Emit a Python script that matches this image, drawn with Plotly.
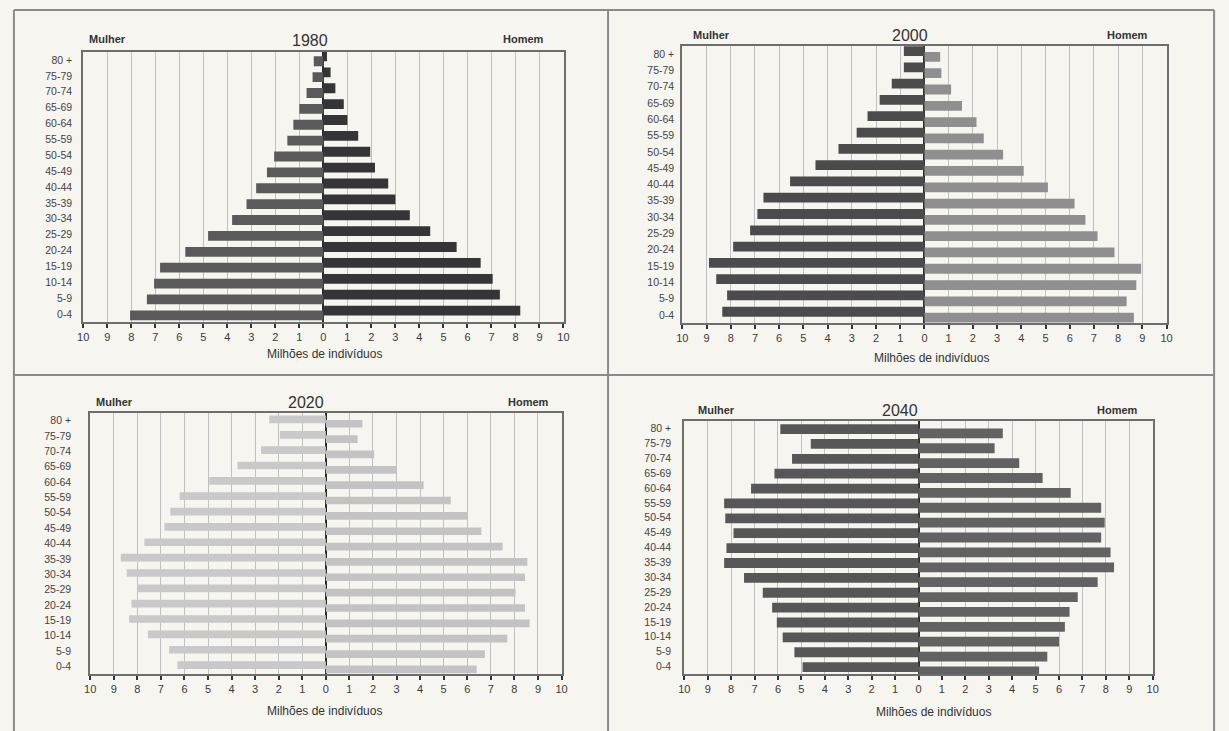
import plotly.graph_objects as go

# Age groups, bottom to top
ages = ["0-4", "5-9", "10-14", "15-19", "20-24", "25-29", "30-34", "35-39",
        "40-44", "45-49", "50-54", "55-59", "60-64", "65-69", "70-74", "75-79", "80 +"]

# Population in millions (women / men), same order as ages
mulher_1980 = [8.05, 7.35, 7.05, 6.8, 5.75, 4.8, 3.8, 3.2, 2.8, 2.35, 2.05, 1.5, 1.25, 1.0, 0.7, 0.45, 0.4]
homem_1980 = [8.2, 7.35, 7.05, 6.55, 5.55, 4.45, 3.6, 3.0, 2.7, 2.15, 1.95, 1.45, 1.0, 0.85, 0.5, 0.3, 0.15]

mulher_2000 = [8.35, 8.15, 8.6, 8.9, 7.9, 7.2, 6.9, 6.65, 5.55, 4.5, 3.55, 2.8, 2.35, 1.85, 1.35, 0.85, 0.85]
homem_2000 = [8.65, 8.35, 8.75, 8.95, 7.85, 7.15, 6.65, 6.2, 5.1, 4.1, 3.25, 2.45, 2.15, 1.55, 1.1, 0.7, 0.65]

mulher_2020 = [6.3, 6.65, 7.55, 8.35, 8.25, 8.0, 8.45, 8.7, 7.7, 6.85, 6.6, 6.2, 4.95, 3.75, 2.75, 1.95, 2.4]
homem_2020 = [6.4, 6.75, 7.7, 8.65, 8.45, 8.05, 8.45, 8.55, 7.5, 6.6, 6.0, 5.3, 4.15, 3.0, 2.05, 1.35, 1.55]

mulher_2040 = [4.95, 5.3, 5.8, 6.05, 6.25, 6.65, 7.45, 8.3, 8.2, 7.9, 8.25, 8.3, 7.15, 6.15, 5.4, 4.6, 5.9]
homem_2040 = [5.15, 5.5, 6.0, 6.25, 6.45, 6.8, 7.65, 8.35, 8.2, 7.8, 7.95, 7.8, 6.5, 5.3, 4.3, 3.25, 3.6]

x_ticks = list(range(-10, 11))
x_ticktext = [str(abs(v)) for v in x_ticks]

W, H = 1229, 731
BG = "#f6f5ef"
FONT = "Liberation Sans, Arial, sans-serif"


def px(x):
    return x / W


def py(y):
    return 1 - y / H


# Per panel: data, colours, bar geometry and placement (pixels)
panels = [
    dict(year="1980", f=mulher_1980, m=homem_1980, fc="#5a5a5a", mc="#353535",
         width=0.62, f_shift=-0.08, m_shift=0.22,
         x0=78, x1=563, y0=52, y1=322, label_pad=7,
         mulher=(103, 39), homem=(523, 39), title=(307, 40), xtitle=(322, 354)),
    dict(year="2000", f=mulher_2000, m=homem_2000, fc="#4b4b4b", mc="#8f8f8f",
         width=0.6, f_shift=0.19, m_shift=-0.17,
         x0=683, x1=1172, y0=46, y1=323, label_pad=4,
         mulher=(712, 35), homem=(1133, 35), title=(913, 36), xtitle=(935, 358)),
    dict(year="2020", f=mulher_2020, m=homem_2020, fc="#c9c9c9", mc="#c3c3c3",
         width=0.5, f_shift=0.08, m_shift=-0.2,
         x0=85, x1=561, y0=413, y1=674, label_pad=15,
         mulher=(110, 402), homem=(528, 402), title=(303, 402), xtitle=(322, 711)),
    dict(year="2040", f=mulher_2040, m=homem_2040, fc="#575757", mc="#626262",
         width=0.66, f_shift=-0.04, m_shift=-0.33,
         x0=685, x1=1158, y0=421, y1=674, label_pad=9,
         mulher=(718, 410), homem=(1122, 410), title=(903, 410), xtitle=(937, 712)),
]

fig = go.Figure()
annotations = []
layout_axes = {}

for i, p in enumerate(panels, start=1):
    xa = "x" if i == 1 else f"x{i}"
    ya = "y" if i == 1 else f"y{i}"
    w = p["width"]
    fig.add_trace(go.Bar(
        y=ages, x=[-v for v in p["f"]], orientation="h", xaxis=xa, yaxis=ya,
        marker=dict(color=p["fc"], line=dict(width=0)), width=w,
        offset=p["f_shift"] - w / 2, name="Mulher", showlegend=False,
        customdata=p["f"], hovertemplate="Mulher %{y}: %{customdata} M<extra></extra>",
    ))
    fig.add_trace(go.Bar(
        y=ages, x=p["m"], orientation="h", xaxis=xa, yaxis=ya,
        marker=dict(color=p["mc"], line=dict(width=0)), width=w,
        offset=p["m_shift"] - w / 2, name="Homem", showlegend=False,
        hovertemplate="Homem %{y}: %{x} M<extra></extra>",
    ))

    xkey = "xaxis" if i == 1 else f"xaxis{i}"
    ykey = "yaxis" if i == 1 else f"yaxis{i}"
    layout_axes[xkey] = dict(
        domain=[px(p["x0"]), px(p["x1"])], anchor=ya, range=[-10, 10],
        tickvals=x_ticks, ticktext=x_ticktext, ticks="outside", ticklen=4,
        tickwidth=1.5, tickcolor="#333", tickfont=dict(size=11, color="#3a3a3a", family=FONT),
        showgrid=True, gridcolor="#c0c0c0", gridwidth=1,
        zeroline=True, zerolinecolor="#2a2a2a", zerolinewidth=2,
        showline=True, mirror=True, linecolor="#6e6e6e", linewidth=2,
        fixedrange=True,
    )
    layout_axes[ykey] = dict(
        domain=[py(p["y1"]), py(p["y0"])], anchor=xa, type="category",
        categoryorder="array", categoryarray=ages, range=[-0.5, 16.5],
        ticks="", ticklabelstandoff=p["label_pad"],
        tickfont=dict(size=10.5, color="#444", family=FONT),
        showgrid=False, zeroline=False,
        showline=True, mirror=True, linecolor="#6e6e6e", linewidth=2,
        fixedrange=True,
    )

    annotations += [
        dict(text="<b>Mulher</b>", x=px(p["mulher"][0]), y=py(p["mulher"][1]),
             font=dict(size=11, color="#333", family=FONT)),
        dict(text="<b>Homem</b>", x=px(p["homem"][0]), y=py(p["homem"][1]),
             font=dict(size=11, color="#333", family=FONT)),
        dict(text=p["year"], x=px(p["title"][0]), y=py(p["title"][1]),
             font=dict(size=16, color="#333", family=FONT)),
        dict(text="Milhões de indivíduos", x=px(p["xtitle"][0]), y=py(p["xtitle"][1]),
             font=dict(size=12, color="#333", family=FONT)),
    ]

for a in annotations:
    a.update(xref="paper", yref="paper", showarrow=False, xanchor="center", yanchor="middle")

# Outer frame and the cross dividing the four panels
frame = dict(type="line", xref="paper", yref="paper", line=dict(color="#8a8a8a", width=2))
shapes = [
    dict(frame, x0=px(8), x1=px(8), y0=py(10), y1=0),
    dict(frame, x0=px(8), x1=px(1220), y0=py(10), y1=py(10)),
    dict(frame, x0=px(1220), x1=px(1220), y0=py(10), y1=0),
    dict(frame, x0=px(608), x1=px(608), y0=py(10), y1=0),
    dict(frame, x0=px(8), x1=px(1220), y0=py(375), y1=py(375)),
]

fig.update_layout(
    width=W, height=H, margin=dict(l=0, r=0, t=0, b=0),
    paper_bgcolor=BG, plot_bgcolor=BG, barmode="overlay",
    annotations=annotations, shapes=shapes, showlegend=False,
    font=dict(family=FONT),
    **layout_axes,
)

fig.write_html("out.html")
